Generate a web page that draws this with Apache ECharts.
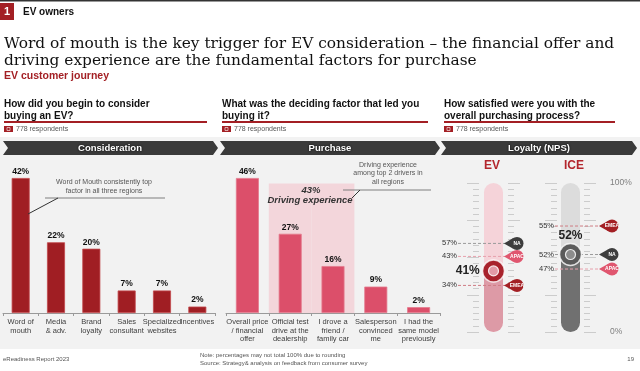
<!DOCTYPE html>
<html><head><meta charset="utf-8">
<script src="https://cdn.jsdelivr.net/npm/echarts@6/dist/echarts.min.js"></script>
<style>html,body{margin:0;padding:0;background:#fff}#c{width:640px;height:371px}</style>
</head><body><div id="c"></div>
<script>
// ---------- DATA ----------
const considerationCats = ['Word of\nmouth','Media\n& adv.','Brand\nloyalty','Sales\nconsultant','Specialized\nwebsites','Incentives'];
const considerationVals = [42, 22, 20, 7, 7, 2];
const purchaseCats = ['Overall price\n/ financial\noffer','Official test\ndrive at the\ndealership','I drove a\nfriend /\nfamily car','Salesperson\nconvinced\nme','I had the\nsame model\npreviously'];
const purchaseVals = [46, 27, 16, 9, 2];
const highlightIdx = [1, 2];
const drivingExperienceShare = 43;
const gaugeNames = ['EV', 'ICE'];
const overallNps = [41, 52];
const regionNames = ['NA', 'APAC', 'EMEA'];
const evRegionVals = [57, 43, 34];
const iceRegionVals = [52, 47, 55];
const gaugeTickLabels = {0: '0%', 100: '100%'};
const respondents = 778;

// ---------- STYLE ----------
const SANS = '"Liberation Sans", Arial, sans-serif';
const SERIF = '"DejaVu Serif", Georgia, serif';
const RED = '#a31f24';
const PINK = '#dc4f6a';
const regionColors = {NA: '#3d3d3d', APAC: '#e0566f', EMEA: '#a31f24'};
const regionDash = {NA: '#9a9a9a', APAC: '#e7a0ac', EMEA: '#cf7c84'};

function fitSize(text, family, target) {
  const c = document.createElement('canvas').getContext('2d');
  c.font = '20px ' + family;
  return 20 * target / c.measureText(text).width;
}
const title1 = 'Word of mouth is the key trigger for EV consideration \u2013 the financial offer and';
const title2 = 'driving experience are the fundamental factors for purchase';
const titleSize = fitSize(title1, SERIF, 611);

const chart = echarts.init(document.getElementById('c'), null, {renderer: 'canvas', width: 640, height: 371});

function txt(x, y, text, font, fill, extra) {
  return Object.assign({type: 'text', x: x, y: y, z: 10,
    style: Object.assign({text: text, font: font, fill: fill, verticalAlign: 'middle'}, extra || {})});
}
function chevron(x0, x1, y0, y1) {
  const ym = (y0 + y1) / 2, d = 5;
  return {type: 'polygon', z: 5, shape: {points: [[x0, y0], [x1 - d, y0], [x1, ym], [x1 - d, y1], [x0, y1], [x0 + d, ym]]},
    style: {fill: '#3a3a3a'}};
}
function respondentsRow(x) {
  return [
    {type: 'rect', z: 5, shape: {x: x, y: 126, width: 9, height: 6}, style: {fill: RED}},
    {type: 'rect', z: 6, shape: {x: x + 3, y: 127.5, width: 3, height: 3}, style: {fill: 'none', stroke: '#fff', lineWidth: 0.6}},
    txt(x + 12, 129.5, respondents + ' respondents', '7px ' + SANS, '#555')
  ];
}
function header(x, x1, text) {
  return [
    txt(x, 110, text, 'bold 10px ' + SANS, '#111', {lineHeight: 12}),
    {type: 'rect', z: 5, shape: {x: x, y: 121, width: x1 - x, height: 2}, style: {fill: RED}}
  ];
}

const graphics = [
  {type: 'rect', z: 0, shape: {x: 0, y: 137, width: 640, height: 212}, style: {fill: '#f2f2f2'}},
  {type: 'rect', z: 5, shape: {x: 0, y: 0, width: 640, height: 1.5}, style: {fill: '#333'}},
  {type: 'rect', z: 5, shape: {x: 0, y: 3, width: 14, height: 17}, style: {fill: RED}},
  txt(4, 12, '1', 'bold 11px ' + SANS, '#fff'),
  txt(23, 12, 'EV owners', 'bold 10px ' + SANS, '#111'),
  txt(4, 44, title1, titleSize.toFixed(2) + 'px ' + SERIF, '#111'),
  txt(4, 61, title2, titleSize.toFixed(2) + 'px ' + SERIF, '#111'),
  txt(4, 76.5, 'EV customer journey', 'bold 10.5px ' + SANS, RED),
  ...header(4, 207, 'How did you begin to consider\nbuying an EV?'),
  ...header(222, 428, 'What was the deciding factor that led you\nbuying it?'),
  ...header(444, 615, 'How satisfied were you with the\noverall purchasing process?'),
  ...respondentsRow(4), ...respondentsRow(222), ...respondentsRow(444),
  chevron(3, 218, 141, 155), chevron(220, 440, 141, 155), chevron(441, 637, 141, 155),
  txt(110, 148, 'Consideration', 'bold 9.5px ' + SANS, '#fff', {align: 'center', textShadowColor: '#000', textShadowBlur: 2}),
  txt(330, 148, 'Purchase', 'bold 9.5px ' + SANS, '#fff', {align: 'center', textShadowColor: '#000', textShadowBlur: 2}),
  txt(539, 148, 'Loyalty (NPS)', 'bold 9.5px ' + SANS, '#fff', {align: 'center', textShadowColor: '#000', textShadowBlur: 2}),
  // annotation chart 1
  txt(104, 186.5, 'Word of Mouth consistently top\nfactor in all three regions', '7px ' + SANS, '#555', {align: 'center', lineHeight: 9}),
  {type: 'line', z: 6, shape: {x1: 45, y1: 198, x2: 165, y2: 198}, style: {stroke: '#7f7f7f', lineWidth: 1}},
  {type: 'line', z: 6, shape: {x1: 58, y1: 198, x2: 28, y2: 214}, style: {stroke: '#333', lineWidth: 1}},
  // annotation chart 2
  txt(388, 173.5, 'Driving experience\namong top 2 drivers in\nall regions', '7px ' + SANS, '#555', {align: 'center', lineHeight: 8.5}),
  {type: 'line', z: 6, shape: {x1: 343, y1: 190, x2: 431, y2: 190}, style: {stroke: '#7f7f7f', lineWidth: 1}},
  {type: 'line', z: 6, shape: {x1: 360, y1: 190, x2: 352, y2: 198}, style: {stroke: '#333', lineWidth: 1}},
  txt(311, 190, drivingExperienceShare + '%', 'italic bold 9.5px ' + SANS, '#333', {align: 'center'}),
  txt(310, 200, 'Driving experience', 'italic bold 9.5px ' + SANS, '#333', {align: 'center'}),
  // gauge titles
  txt(492, 165.5, gaugeNames[0], 'bold 12px ' + SANS, '#b3262d', {align: 'center'}),
  txt(574, 165.5, gaugeNames[1], 'bold 12px ' + SANS, '#b3262d', {align: 'center'}),
  // footer
  txt(3, 359, 'eReadiness Report 2023', '6px ' + SANS, '#555'),
  txt(200, 355.5, 'Note: percentages may not total 100% due to rounding', '6px ' + SANS, '#555'),
  txt(200, 363.5, 'Source: Strategy& analysis on feedback from consumer survey', '6px ' + SANS, '#555'),
  txt(634, 359, '19', '6px ' + SANS, '#555', {align: 'right'})
];

const catAxisStyle = {
  axisLine: {lineStyle: {color: '#9a9a9a', width: 1}},
  axisTick: {show: true, length: 3, alignWithLabel: false, lineStyle: {color: '#9a9a9a'}},
  axisLabel: {interval: 0, fontSize: 7.5, lineHeight: 8.5, color: '#404040', margin: 5, fontFamily: SANS},
  splitLine: {show: false}
};
const hiddenVal = {type: 'value', show: false, splitLine: {show: false}};
function gaugeY(grid, pos, withLabels) {
  return {
    type: 'value', gridIndex: grid, position: pos, min: 0, max: 100, interval: 25,
    axisLine: {show: false},
    axisTick: {show: true, length: 12, lineStyle: {color: '#cccccc', width: 1}},
    minorTick: {show: true, splitNumber: 6, length: 6, lineStyle: {color: '#cccccc', width: 1}},
    splitLine: {show: false},
    axisLabel: withLabels ? {show: true, margin: 26, fontSize: 8.5, color: '#7f7f7f', fontFamily: SANS,
      formatter: v => gaugeTickLabels[v] || ''} : {show: false}
  };
}

// region call-out rows: placed at their value, nudged clear of the overall marker
const GAP = 13, HALF = 6.5;
function regionSeries(xIdx, yIdx, vals, overall, topExt, botExt) {
  return {
    type: 'custom', xAxisIndex: xIdx, yAxisIndex: yIdx, z: 4, silent: true,
    data: vals.map((v, i) => [0, v, i]),
    renderItem: function (params, api) {
      const i = params.dataIndex;
      const ys = vals.map(v => api.coord([0, v])[1]);
      const my = api.coord([0, overall])[1];
      const res = ys.slice();
      const above = ys.map((y, k) => k).filter(k => vals[k] > overall).sort((a, b) => ys[b] - ys[a]);
      const below = ys.map((y, k) => k).filter(k => vals[k] < overall).sort((a, b) => ys[a] - ys[b]);
      let lim = my - topExt - HALF;
      above.forEach(k => { res[k] = Math.min(ys[k], lim); lim = res[k] - GAP; });
      lim = my + botExt + HALF;
      below.forEach(k => { res[k] = Math.max(ys[k], lim); lim = res[k] + GAP; });
      vals.forEach((v, k) => { if (v === overall) res[k] = my; });
      const y = res[i];
      const x0 = api.coord([0, vals[i]])[0], x1 = api.coord([1, vals[i]])[0];
      const name = regionNames[i];
      return {type: 'group', children: [
        {type: 'line', shape: {x1: x0, y1: y, x2: x1 - 8, y2: y}, style: {stroke: regionDash[name], lineWidth: 1, lineDash: [3, 2]}},
        {type: 'text', style: {text: vals[i] + '%', x: x0 - 1, y: y, align: 'right', verticalAlign: 'middle', font: '7.5px ' + SANS, fill: '#333'}},
        {type: 'polygon', shape: {points: [[x1 - 13, y], [x1 - 3.3, y - 5.6], [x1 - 3.3, y + 5.6]]}, style: {fill: regionColors[name]}},
        {type: 'circle', shape: {cx: x1, cy: y, r: 6.5}, style: {fill: regionColors[name]}},
        {type: 'text', style: {text: name, x: x1, y: y, align: 'center', verticalAlign: 'middle', font: 'bold 5px ' + SANS, fill: '#fff'}}
      ]};
    }
  };
}
function tube(xIdx, yIdx, bg, fill, val) {
  return [
    {type: 'bar', xAxisIndex: xIdx, yAxisIndex: yIdx, data: [100], barWidth: 19, barGap: '-100%', z: 2, silent: true,
      itemStyle: {color: bg, borderRadius: 10}},
    {type: 'bar', xAxisIndex: xIdx, yAxisIndex: yIdx, data: [val], barWidth: 19, barGap: '-100%', z: 3, silent: true,
      itemStyle: {color: fill, borderRadius: [0, 0, 10, 10]}}
  ];
}
function marker(xIdx, yIdx, val, outer, inner, pos) {
  return [
    {type: 'scatter', xAxisIndex: xIdx, yAxisIndex: yIdx, z: 5, silent: true, data: [[0, val]], symbolSize: 22,
      itemStyle: {color: outer, borderColor: 'rgba(255,255,255,0.8)', borderWidth: 1.5, opacity: 1},
      label: {show: true, position: pos, distance: pos === 'left' ? 2 : 1, formatter: val + '%',
        fontSize: 12, fontWeight: 'bold', color: '#222', fontFamily: SANS}},
    {type: 'scatter', xAxisIndex: xIdx, yAxisIndex: yIdx, z: 6, silent: true, data: [[0, val]], symbolSize: 10,
      itemStyle: {color: inner, borderColor: 'rgba(255,255,255,0.85)', borderWidth: 1.2, opacity: 1}}
  ];
}

const option = {
  backgroundColor: '#fff',
  animation: false,
  graphic: {elements: graphics},
  grid: [
    {left: 3, right: 425, top: 178, bottom: 58},
    {left: 226, right: 200, top: 178, bottom: 58},
    {left: 479, right: 132, top: 183, bottom: 39},
    {left: 557, right: 56, top: 183, bottom: 39},
    {left: 458, right: 123, top: 183, bottom: 39},
    {left: 555, right: 28, top: 183, bottom: 39}
  ],
  xAxis: [
    Object.assign({type: 'category', gridIndex: 0, data: considerationCats}, catAxisStyle),
    Object.assign({type: 'category', gridIndex: 1, data: purchaseCats}, catAxisStyle),
    {type: 'category', gridIndex: 1, data: purchaseCats, show: false},
    {type: 'category', gridIndex: 2, data: [gaugeNames[0]], show: false},
    {type: 'category', gridIndex: 3, data: [gaugeNames[1]], show: false},
    {type: 'value', gridIndex: 4, min: 0, max: 1, show: false},
    {type: 'value', gridIndex: 5, min: 0, max: 1, show: false}
  ],
  yAxis: [
    Object.assign({gridIndex: 0, min: 0, max: Math.max(...considerationVals)}, hiddenVal),
    Object.assign({gridIndex: 1, min: 0, max: Math.max(...purchaseVals)}, hiddenVal),
    gaugeY(2, 'left', false), gaugeY(2, 'right', false),
    gaugeY(3, 'left', false), gaugeY(3, 'right', true),
    Object.assign({gridIndex: 4, min: 0, max: 100}, hiddenVal),
    Object.assign({gridIndex: 5, min: 0, max: 100}, hiddenVal)
  ],
  series: [
    {type: 'bar', xAxisIndex: 0, yAxisIndex: 0, data: considerationVals, barWidth: 18, z: 3,
      itemStyle: {color: '#a01e23', borderColor: '#c2474b', borderWidth: 0.8},
      label: {show: true, position: 'top', distance: 2, formatter: '{c}%', fontSize: 8.5, fontWeight: 'bold', color: '#111', fontFamily: SANS}},
    {type: 'bar', xAxisIndex: 2, yAxisIndex: 1, barWidth: '100%', z: 1, silent: true,
      data: purchaseCats.map((c, i) => highlightIdx.includes(i) ? Math.max(...purchaseVals) * 0.96 : null),
      itemStyle: {color: '#f3d6db'}},
    {type: 'bar', xAxisIndex: 1, yAxisIndex: 1, data: purchaseVals, barWidth: 23, z: 3,
      itemStyle: {color: PINK, borderColor: '#e57a8d', borderWidth: 0.8},
      label: {show: true, position: 'top', distance: 2, formatter: '{c}%', fontSize: 8.5, fontWeight: 'bold', color: '#111', fontFamily: SANS}},
    ...tube(3, 2, '#f5d3d9', '#dd9aa6', overallNps[0]),
    ...tube(4, 4, '#dcdcdc', '#707070', overallNps[1]),
    regionSeries(5, 6, evRegionVals, overallNps[0], 8, 8),
    regionSeries(6, 7, iceRegionVals, overallNps[1], 22, 8),
    ...marker(3, 2, overallNps[0], '#a8222c', '#e29aa6', 'left'),
    ...marker(4, 4, overallNps[1], '#5a5a5a', '#8c8c8c', 'top')
  ]
};
chart.setOption(option);
</script>
</body></html>
